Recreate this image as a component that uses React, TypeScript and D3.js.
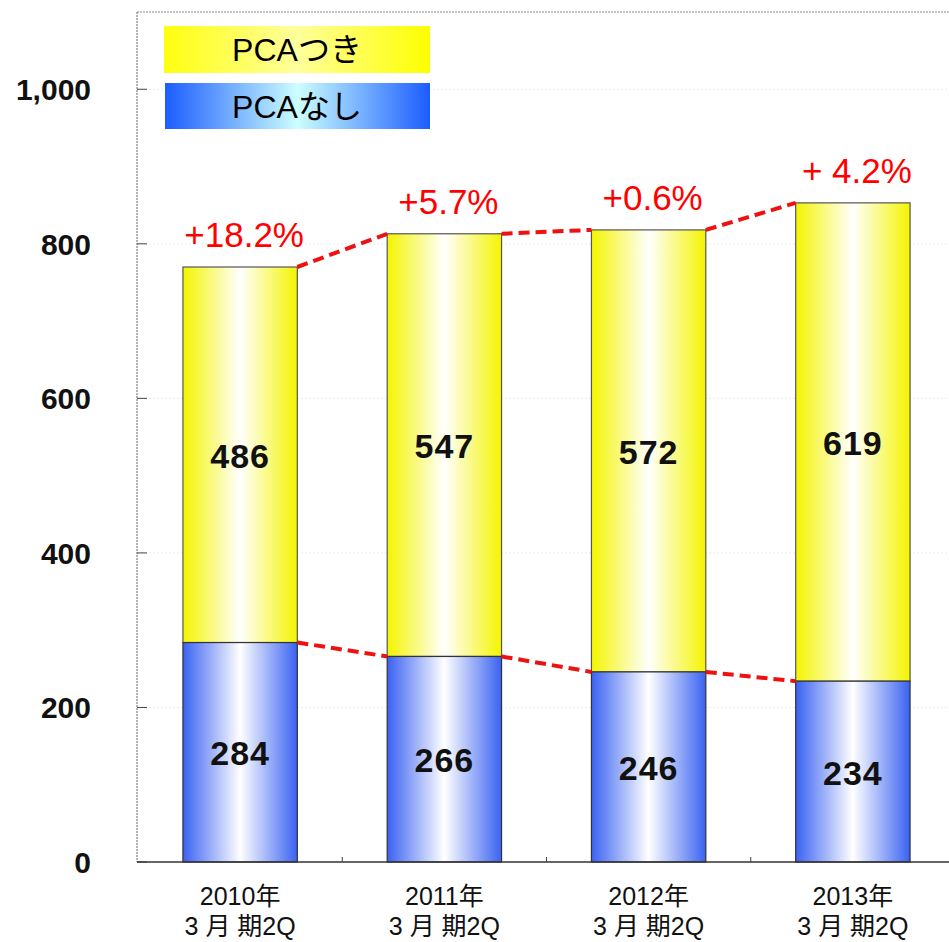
import React from "react";
import * as d3 from "d3";

const categories = ["2010年", "2011年", "2012年", "2013年"];
const subLabel = "3 月 期2Q";
const withoutPCA = [284, 266, 246, 234];
const withPCA = [486, 547, 572, 619];
const growth = ["+18.2%", "+5.7%", "+0.6%", "+ 4.2%"];
const yTicks = [0, 200, 400, 600, 800, 1000];

const W = 949;
const H = 942;
const left = 137;
const top = 12;
const bottom = 862;
const font = "'Liberation Sans', Arial, 'Noto Sans CJK JP', sans-serif";

export default function App() {
  const y = d3.scaleLinear().domain([0, 1100]).range([bottom, top]);
  const x = d3
    .scaleBand<string>()
    .domain(categories)
    .range([138, 955])
    .paddingInner(0.44)
    .paddingOuter(0.22);
  const bw = x.bandwidth();
  const totals = withPCA.map((v, i) => v + withoutPCA[i]);
  const fmt = d3.format(",");

  // dashed links between neighbouring bar tops
  const links = (vals: number[]) =>
    vals.slice(0, -1).map((v, i) => ({
      x1: (x(categories[i]) as number) + bw,
      y1: y(v),
      x2: x(categories[i + 1]) as number,
      y2: y(vals[i + 1]),
    }));

  return (
    <svg
      width={W}
      height={H}
      style={{ position: "absolute", left: 0, top: 0, background: "#fff" }}
    >
      <defs>
        <linearGradient id="gy" x1="0" x2="1" y1="0" y2="0">
          <stop offset="0" stopColor="#f4f400" />
          <stop offset="0.5" stopColor="#ffffff" />
          <stop offset="1" stopColor="#f4f400" />
        </linearGradient>
        <linearGradient id="gb" x1="0" x2="1" y1="0" y2="0">
          <stop offset="0" stopColor="#3a62f2" />
          <stop offset="0.5" stopColor="#ffffff" />
          <stop offset="1" stopColor="#3a62f2" />
        </linearGradient>
        <linearGradient id="ly" x1="0" x2="1" y1="0" y2="0">
          <stop offset="0" stopColor="#ffff10" />
          <stop offset="0.5" stopColor="#ffff9c" />
          <stop offset="1" stopColor="#ffff00" />
        </linearGradient>
        <linearGradient id="lb" x1="0" x2="1" y1="0" y2="0">
          <stop offset="0" stopColor="#1b5cff" />
          <stop offset="0.5" stopColor="#ccffff" />
          <stop offset="1" stopColor="#1b5cff" />
        </linearGradient>
      </defs>

      {/* faint grid */}
      {yTicks.slice(1).map((t) => (
        <line
          key={"g" + t}
          x1={left}
          x2={W}
          y1={y(t)}
          y2={y(t)}
          stroke="#ececec"
          strokeDasharray="2,2"
        />
      ))}

      {/* frame */}
      <line x1={left} x2={W} y1={top} y2={top} stroke="#888" strokeDasharray="2,1" />
      <line x1={left} x2={left} y1={top} y2={bottom} stroke="#666" strokeDasharray="2,1" />

      {/* y ticks + labels */}
      {yTicks.map((t) => (
        <g key={"t" + t}>
          <line x1={left} x2={left + 10} y1={y(t)} y2={y(t)} stroke="#444" />
          <text
            x={91}
            y={y(t) + 11}
            textAnchor="end"
            fontFamily={font}
            fontSize={30}
            fontWeight="bold"
            fill="#111"
          >
            {fmt(t)}
          </text>
        </g>
      ))}

      {/* bars */}
      {categories.map((c, i) => {
        const bx = x(c) as number;
        const yb = y(withoutPCA[i]);
        const yt = y(totals[i]);
        return (
          <g key={c}>
            <rect x={bx} y={yt} width={bw} height={yb - yt} fill="url(#gy)" stroke="#555" strokeWidth={1.2} />
            <rect x={bx} y={yb} width={bw} height={bottom - yb} fill="url(#gb)" stroke="#333" strokeWidth={1.2} />
            <text
              x={bx + bw / 2}
              y={(yt + yb) / 2 + 13}
              textAnchor="middle"
              fontFamily={font}
              fontSize={34}
              fontWeight="bold"
              fill="#111"
              letterSpacing={1}
            >
              {withPCA[i]}
            </text>
            <text
              x={bx + bw / 2}
              y={(yb + bottom) / 2 + 13}
              textAnchor="middle"
              fontFamily={font}
              fontSize={34}
              fontWeight="bold"
              fill="#111"
              letterSpacing={1}
            >
              {withoutPCA[i]}
            </text>
            <text
              x={bx + bw / 2 + 4}
              y={yt - 20}
              textAnchor="middle"
              fontFamily={font}
              fontSize={35}
              fill="#ff0000"
            >
              {growth[i]}
            </text>
            <text x={bx + bw / 2} y={905} textAnchor="middle" fontFamily={font} fontSize={25} fill="#111">
              {c}
            </text>
            <text x={bx + bw / 2} y={935} textAnchor="middle" fontFamily={font} fontSize={25} fill="#111">
              {subLabel}
            </text>
          </g>
        );
      })}

      {/* x axis */}
      <line x1={left} x2={W} y1={bottom} y2={bottom} stroke="#333" strokeWidth={1.5} />
      {categories.slice(1).map((c) => (
        <line
          key={"x" + c}
          x1={(x(c) as number) - (x.step() - bw) / 2}
          x2={(x(c) as number) - (x.step() - bw) / 2}
          y1={bottom}
          y2={bottom - 5}
          stroke="#444"
        />
      ))}

      {/* dashed connectors */}
      {[...links(totals), ...links(withoutPCA)].map((l, i) => (
        <line
          key={"l" + i}
          {...l}
          stroke="#ee1111"
          strokeWidth={4}
          strokeDasharray="11,6"
        />
      ))}

      {/* legend */}
      <rect x={164} y={26} width={266} height={47} fill="url(#ly)" />
      <text x={297} y={61} textAnchor="middle" fontFamily={font} fontSize={32} fill="#000">
        PCAつき
      </text>
      <rect x={165} y={83} width={265} height={46} fill="url(#lb)" />
      <text x={297} y={118} textAnchor="middle" fontFamily={font} fontSize={32} fill="#000">
        PCAなし
      </text>
    </svg>
  );
}
